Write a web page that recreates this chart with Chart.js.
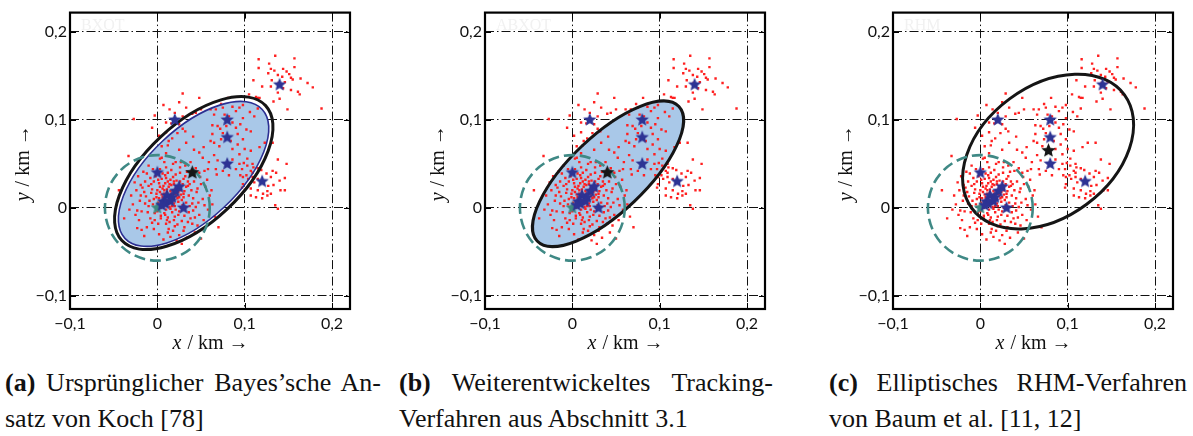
<!DOCTYPE html>
<html>
<head>
<meta charset="utf-8">
<script src="https://cdn.jsdelivr.net/npm/chart.js@4.4.1/dist/chart.umd.min.js"></script>
<style>
body { margin: 0; background: #fff; width: 1193px; height: 436px; overflow: hidden; position: relative; font-family: "Liberation Serif", serif; }
canvas { position: absolute; top: 0; }
.cap { position: absolute; top: 365px; font-size: 26px; line-height: 36px; color: #111; }
.cap .l1 { text-align: justify; text-align-last: justify; }
</style>
</head>
<body>
<canvas id="chartA" width="370" height="356" style="left:0px"></canvas>
<canvas id="chartB" width="370" height="356" style="left:415px"></canvas>
<canvas id="chartC" width="370" height="356" style="left:823px"></canvas>

<div class="cap" style="left:5px; width:376px;">
  <div class="l1"><b>(a)</b> Ursprünglicher Bayes’sche An-</div>
  <div>satz von Koch [78]</div>
</div>
<div class="cap" style="left:399px; width:374px;">
  <div class="l1"><b>(b)</b> Weiterentwickeltes Tracking-</div>
  <div>Verfahren aus Abschnitt 3.1</div>
</div>
<div class="cap" style="left:829px; width:358px;">
  <div class="l1"><b>(c)</b> Elliptisches RHM-Verfahren</div>
  <div>von Baum et al. [11, 12]</div>
</div>

<script>
// axis setup
const tickValues = [-0.1, 0, 0.1, 0.2];
const xRange = [-0.1, 0.2206];
const yRange = [-0.115, 0.222];

// measurements (same in all three panels)
const dotsMain = [
  [0.012,0.008],[0.005,0.015],[0.020,0.002],[-0.004,0.010],[0.018,0.020],[0.030,0.012],[0.008,-0.006],[0.025,-0.004],[-0.010,0.002],[0.002,0.028],
  [0.015,0.032],[0.035,0.025],[-0.015,0.018],[0.040,0.005],[0.010,-0.018],[0.028,-0.015],[-0.008,-0.012],[0.000,-0.004],[0.022,0.014],[0.014,0.001],
  [0.006,0.022],[-0.002,0.036],[0.032,0.036],[0.045,0.018],[-0.020,0.008],[0.048,-0.008],[0.018,-0.026],[-0.012,-0.022],[0.003,0.044],[0.026,0.046],
  [0.011,0.017],[0.017,0.009],[0.009,0.003],[0.024,0.007],[0.001,0.006],[0.013,0.024],[0.029,0.003],[-0.006,0.021],[0.020,-0.010],[0.004,-0.012],
  [0.036,0.014],[-0.014,0.030],[0.038,-0.012],[-0.018,-0.004],[0.052,0.010],[0.012,0.040],[-0.004,-0.024],[0.030,-0.026],[0.042,0.030],[-0.024,0.020],
  [0.016,0.016],[0.007,0.010],[0.019,0.027],[0.027,0.020],[-0.001,0.016],[0.010,-0.002],[0.033,0.006],[0.023,-0.019],[0.005,0.033],[-0.009,0.008],
  [0.044,0.001],[0.015,-0.033],[-0.021,-0.014],[0.055,0.024],[0.039,0.042],[-0.016,0.041],[0.008,0.052],[0.034,-0.034],[-0.028,0.004],[0.058,-0.002],
  [0.002,-0.030],[0.021,0.038],[0.046,-0.020],[-0.010,0.048],[0.014,0.012],[0.026,0.030],[0.003,0.002],[0.017,-0.005],[0.009,0.028],[-0.007,0.027],
  [0.031,0.019],[0.037,0.002],[0.024,0.024],[0.012,-0.011],[-0.003,-0.006],[0.041,0.011],[0.006,0.039],[-0.013,0.013],[0.028,0.009],[0.019,0.005],
  [0.000,0.020],[0.015,0.019],[0.022,0.031],[0.010,0.034],[-0.008,0.034],[0.049,0.035],[0.032,0.048],[-0.019,0.026],[0.036,-0.005],[0.013,-0.024],
  [-0.006,-0.017],[0.025,-0.031],[-0.025,-0.008],[0.053,-0.014],[0.043,-0.028],[0.007,-0.036],[-0.030,0.014],[0.060,0.014],[0.018,0.050],[-0.022,0.036],
  [0.004,0.000],[0.020,0.016],[0.011,0.021],[0.027,0.000],[0.035,0.030],[0.016,0.026],[0.008,0.016],[-0.002,0.001],[0.029,0.027],[0.023,0.011],
  [0.039,0.020],[0.013,0.005],[0.006,0.007],[0.021,-0.002],[0.031,-0.009],[0.003,0.018],[-0.005,0.004],[0.018,0.035],[0.010,0.046],[0.040,-0.018],
  [-0.011,-0.005],[0.026,0.040],[0.047,0.006],[0.014,-0.016],[-0.017,0.023],[0.034,0.041],[0.001,-0.018],[0.050,0.027],[-0.012,0.039],[0.022,-0.037],
  [0.057,0.032],[-0.026,0.029],[0.063,0.004],[0.044,0.045],[-0.032,-0.002],[0.028,-0.041],[0.005,0.057],[-0.018,-0.025],[0.038,0.052],[0.066,-0.010],
  [0.012,0.030],[0.024,0.018],[0.017,0.002],[0.007,0.025],[0.030,0.016],[0.002,0.011],[0.019,-0.014],[0.033,0.024],[0.009,-0.008],[-0.004,0.030],
  [0.013,0.014],[0.018,0.012],[0.006,0.012],[0.021,0.022],[0.010,0.009],[0.003,0.024],[0.025,0.012],[0.015,-0.001],[0.008,0.020],[0.027,0.015],
  [-0.001,0.012],[0.019,0.030],[0.032,0.001],[0.011,-0.014],[0.037,0.027],[-0.007,0.017],[0.004,-0.009],[0.024,-0.008],[0.016,0.043],[0.041,-0.003],
  [-0.014,0.005],[0.030,0.033],[0.009,0.037],[-0.003,-0.014],[0.046,0.022],[0.020,-0.021],[-0.010,0.025],[0.035,-0.016],[0.001,0.032],[0.014,0.027],
  [0.054,0.003],[-0.019,0.014],[0.027,0.052],[-0.005,0.044],[0.043,-0.011],[0.012,-0.028],[0.062,0.020],[-0.023,-0.003],[0.048,0.040],[0.031,-0.022],
  [0.054,0.042],[-0.033,0.059],[-0.044,0.020],[-0.023,-0.023],[-0.038,-0.012],[0.070,-0.022],[0.068,0.038],[0.050,-0.035],[-0.015,-0.032],[0.010,0.062]
];
const dotsUpperLeft = [
  [-0.003,0.105],[0.007,0.117],[0.020,0.108],[0.025,0.120],[0.029,0.130],[0.033,0.114],[0.014,0.112],[0.040,0.107],[0.044,0.108],[0.050,0.112],
  [0.048,0.125],[0.029,0.104],[0.010,0.097],[0.016,0.096],[0.025,0.095],[0.029,0.090],[0.010,0.086],[0.002,0.082],[0.017,0.079],[0.023,0.085],
  [0.013,0.076],[0.032,0.087],[0.041,0.081],[0.033,0.074],[0.012,0.071],[0.053,0.069],[0.042,0.066],[0.048,0.063],[0.025,0.066],[0.005,0.070],
  [0.052,0.057],[0.003,0.056],[0.021,0.052],[-0.006,0.091],[-0.027,0.101]
];
const dotsCenterRight = [
  [0.073,0.118],[0.081,0.125],[0.086,0.115],[0.090,0.110],[0.094,0.114],[0.098,0.117],[0.067,0.112],[0.075,0.114],[0.061,0.112],[0.065,0.106],
  [0.077,0.106],[0.069,0.093],[0.063,0.094],[0.072,0.090],[0.079,0.093],[0.086,0.097],[0.090,0.091],[0.095,0.095],[0.102,0.089],[0.107,0.087],
  [0.092,0.084],[0.084,0.076],[0.092,0.072],[0.098,0.078],[0.073,0.078],[0.065,0.074],[0.061,0.076],[0.071,0.070],[0.086,0.067],[0.094,0.061],
  [0.100,0.067],[0.065,0.060],[0.069,0.054],[0.086,0.055],[0.094,0.050],[0.090,0.044],[0.075,0.042],[0.067,0.044],[0.103,0.056],[0.109,0.050],
  [0.059,0.052],[0.058,0.044],[0.082,0.037],[0.098,0.035],[0.109,0.040],[0.117,0.069],[0.123,0.074],[0.105,0.129],[0.115,0.125],[0.111,0.104],
  [0.132,0.074],[0.107,0.065],[0.149,0.112],[0.063,0.084],[0.075,0.085],[0.082,0.104],[0.098,0.102]
];
const dotsLowerRight = [
  [0.138,0.055],[0.148,0.050],[0.099,0.051],[0.103,0.048],[0.110,0.046],[0.115,0.045],[0.119,0.043],[0.097,0.044],[0.107,0.042],[0.132,0.042],
  [0.136,0.040],[0.125,0.039],[0.130,0.035],[0.095,0.037],[0.102,0.037],[0.109,0.035],[0.115,0.033],[0.104,0.033],[0.140,0.031],[0.146,0.034],
  [0.111,0.029],[0.098,0.027],[0.127,0.025],[0.133,0.026],[0.107,0.022],[0.097,0.023],[0.115,0.020],[0.126,0.019],[0.141,0.020],[0.146,0.020],
  [0.121,0.016],[0.130,0.016],[0.107,0.014],[0.113,0.012],[0.120,0.011],[0.135,0.003],[0.138,-0.001],[0.126,0.014]
];
const dotsTopRight = [
  [0.116,0.169],[0.135,0.173],[0.157,0.170],[0.128,0.164],[0.116,0.159],[0.130,0.158],[0.134,0.156],[0.144,0.158],[0.157,0.160],[0.148,0.155],
  [0.127,0.153],[0.138,0.151],[0.143,0.149],[0.151,0.152],[0.153,0.148],[0.164,0.147],[0.155,0.146],[0.131,0.145],[0.139,0.142],[0.146,0.143],
  [0.172,0.142],[0.178,0.137],[0.110,0.145],[0.130,0.138],[0.144,0.136],[0.138,0.131],[0.153,0.134],[0.161,0.132],[0.163,0.129],[0.120,0.138],
  [0.113,0.126],[0.117,0.125],[0.133,0.121],[0.140,0.124],[0.115,0.113],[0.188,0.113],[0.106,0.109]
];

// true object positions (blue stars) and the teal start point
const targetX = [0.140, 0.020, 0.080, 0.080, 0.080, 0.120, 0.000, 0.030, 0.025, 0.021, 0.011, 0.017, 0.007, 0.015, 0.009, 0.005];
const targetY = [0.140, 0.100, 0.100, 0.080, 0.050, 0.030, 0.040, 0.000, 0.024, 0.019, 0.014, 0.012, 0.007, 0.0075, 0.005, 0.003];
const startPoint = [0, 0];
const startRadius = 0.06;

// estimated centre (black star) per panel
const centerA = [0.040, 0.040];
const centerB = [0.040, 0.040];
const centerC = [0.078, 0.065];

// extent ellipses: [cx, cy, semi-major, semi-minor, angle in degrees]
const extentA_inner = [0.0415, 0.0386, 0.1075, 0.0515, 43];
const extentA_outer = [0.0417, 0.0395, 0.1125, 0.0560, 43];
const extentB = [0.0409, 0.0387, 0.1115, 0.0435, 43.3];
const extentC = [0.0776, 0.0640, 0.1086, 0.0744, 36.4];

const panelTags = ['BXOT', 'ABXOT', 'RHM'];

const allDots = [].concat(dotsMain, dotsUpperLeft, dotsCenterRight, dotsLowerRight, dotsTopRight)
  .map(([x, y]) => ({x, y}));
const targets = targetX.map((x, i) => ({x, y: targetY[i]}));

function starImage(color, r) {
  const c = document.createElement('canvas');
  const s = Math.ceil(2 * r + 2);
  c.width = c.height = s;
  const g = c.getContext('2d');
  g.beginPath();
  for (let i = 0; i < 10; i++) {
    const rr = i % 2 ? r * 0.45 : r;
    const a = -Math.PI / 2 + i * Math.PI / 5;
    g.lineTo(s / 2 + rr * Math.cos(a), s / 2 + rr * Math.sin(a));
  }
  g.closePath();
  g.fillStyle = color;
  g.fill();
  return c;
}
const blueStar = starImage('#2d3394', 7);
const blackStar = starImage('#161616', 7.5);
const tealStar = starImage('#3d8a80', 7);

function fmt(v) {
  if (v === 0) return '0';
  return (v < 0 ? '\u2212' : '') + Math.abs(v).toFixed(1).replace('.', ',');
}

// path of an ellipse given in data units
function pathEllipse(chart, p) {
  const xs = chart.scales.x, ys = chart.scales.y, ctx = chart.ctx;
  const kx = xs.getPixelForValue(1) - xs.getPixelForValue(0);
  const ky = ys.getPixelForValue(0) - ys.getPixelForValue(1);
  ctx.save();
  ctx.translate(xs.getPixelForValue(p[0]), ys.getPixelForValue(p[1]));
  ctx.scale(kx, -ky);
  ctx.rotate(p[4] * Math.PI / 180);
  ctx.beginPath();
  ctx.ellipse(0, 0, p[2], p[3], 0, 0, 2 * Math.PI);
  ctx.restore();
}

const shapes = {
  id: 'shapes',
  beforeDatasetsDraw(chart, args, opts) {
    const ctx = chart.ctx;
    ctx.save();
    opts.ellipses.forEach(e => {
      if (!e.fill) return;
      pathEllipse(chart, e.p);
      ctx.fillStyle = e.fill;
      ctx.fill();
    });
    ctx.restore();
  },
  afterDatasetDraw(chart, args, opts) {
    if (args.index !== 0) return;
    const ctx = chart.ctx;
    ctx.save();
    opts.ellipses.forEach(e => {
      pathEllipse(chart, e.p);
      ctx.lineWidth = e.width;
      ctx.strokeStyle = e.stroke;
      ctx.stroke();
    });
    pathEllipse(chart, [startPoint[0], startPoint[1], startRadius, startRadius, 0]);
    ctx.setLineDash([11, 5]);
    ctx.lineWidth = 2.6;
    ctx.strokeStyle = '#3f8985';
    ctx.stroke();
    ctx.restore();
  }
};

const frame = {
  id: 'frame',
  afterDraw(chart, args, opts) {
    const ctx = chart.ctx, a = chart.chartArea;
    const xs = chart.scales.x, ys = chart.scales.y;
    ctx.save();
    // faint method tag
    ctx.font = '16px "Liberation Serif"';
    ctx.fillStyle = '#f1f1f1';
    ctx.textBaseline = 'alphabetic';
    ctx.fillText(opts.tag, a.left + 11, a.top + 17);
    // inner ticks
    ctx.strokeStyle = '#000';
    ctx.lineWidth = 1;
    ctx.beginPath();
    tickValues.forEach(v => {
      const px = Math.round(xs.getPixelForValue(v)) + 0.5;
      const py = Math.round(ys.getPixelForValue(v)) + 0.5;
      ctx.moveTo(px, a.bottom); ctx.lineTo(px, a.bottom - 6);
      ctx.moveTo(px, a.top); ctx.lineTo(px, a.top + 6);
      ctx.moveTo(a.left, py); ctx.lineTo(a.left + 6, py);
      ctx.moveTo(a.right, py); ctx.lineTo(a.right - 6, py);
    });
    ctx.stroke();
    // frame
    ctx.lineWidth = 2.2;
    ctx.strokeRect(a.left, a.top, a.right - a.left, a.bottom - a.top);
    // axis titles with italic variable
    ctx.fillStyle = '#111';
    const drawTitle = (v, x, y, rot) => {
      ctx.save();
      ctx.translate(x, y);
      ctx.rotate(rot);
      ctx.font = 'italic 20px "Liberation Serif"';
      const w1 = ctx.measureText(v).width;
      ctx.font = '20px "Liberation Serif"';
      const rest = ' / km \u2192';
      const w2 = ctx.measureText(rest).width;
      const x0 = -(w1 + w2) / 2;
      ctx.font = 'italic 20px "Liberation Serif"';
      ctx.fillText(v, x0, 0);
      ctx.font = '20px "Liberation Serif"';
      ctx.fillText(rest, x0 + w1 + 1, 0);
      ctx.restore();
    };
    drawTitle('x', (a.left + a.right) / 2, 349, 0);
    drawTitle('y', 29, (a.top + a.bottom) / 2 + 3, -Math.PI / 2);
    ctx.restore();
  }
};

function axis(range, isX) {
  return {
    type: 'linear',
    min: range[0],
    max: range[1],
    afterBuildTicks: s => { s.ticks = tickValues.map(v => ({value: v})); },
    afterFit: s => { if (isX) s.height = 47; else s.width = 70; },
    grid: {color: '#111', lineWidth: 1, drawTicks: false},
    border: {display: false, dash: [9, 3, 1.5, 3]},
    ticks: {
      padding: isX ? 5 : 3,
      color: '#111',
      font: {family: 'Lato', size: 16},
      maxRotation: 0,
      autoSkip: false,
      callback: fmt
    }
  };
}

function makeChart(id, center, ellipses, tag) {
  new Chart(document.getElementById(id), {
    type: 'scatter',
    data: {
      datasets: [
        {data: allDots, pointStyle: 'rect', pointRadius: 1.7, backgroundColor: '#ff2020', borderWidth: 0, order: 3},
        {data: targets, pointStyle: blueStar, order: 1},
        {data: [{x: startPoint[0], y: startPoint[1]}], pointStyle: tealStar, order: 2},
        {data: [{x: center[0], y: center[1]}], pointStyle: blackStar, order: 0}
      ]
    },
    options: {
      responsive: false,
      animation: false,
      events: [],
      layout: {padding: {top: 7, right: 20, left: 0, bottom: 0}},
      scales: {x: axis(xRange, true), y: axis(yRange, false)},
      plugins: {
        legend: {display: false},
        tooltip: {enabled: false},
        shapes: {ellipses: ellipses},
        frame: {tag: tag}
      }
    },
    plugins: [shapes, frame]
  });
}

makeChart('chartA', centerA, [
  {p: extentA_inner, fill: '#a9c8e8', stroke: '#2b2f92', width: 1.6},
  {p: extentA_outer, fill: null, stroke: '#151515', width: 3}
], panelTags[0]);
makeChart('chartB', centerB, [
  {p: extentB, fill: '#a9c8e8', stroke: '#151515', width: 3}
], panelTags[1]);
makeChart('chartC', centerC, [
  {p: extentC, fill: null, stroke: '#151515', width: 3}
], panelTags[2]);
</script>
</body>
</html>
